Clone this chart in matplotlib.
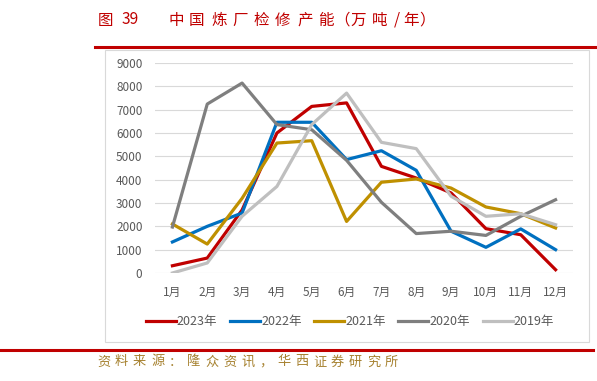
import matplotlib.pyplot as plt
from matplotlib.patches import Rectangle
from matplotlib.lines import Line2D

plt.rcParams['font.family'] = ['Noto Sans CJK SC', 'DejaVu Sans']

months = ['1月', '2月', '3月', '4月', '5月', '6月', '7月', '8月', '9月', '10月', '11月', '12月']
y2023 = [310, 640, 2700, 6000, 7140, 7290, 4570, 4070, 3430, 1900, 1640, 140]
y2022 = [1330, 2000, 2570, 6460, 6460, 4860, 5240, 4400, 1790, 1100, 1890, 1000]
y2021 = [2100, 1240, 3200, 5570, 5670, 2210, 3890, 4030, 3640, 2830, 2540, 1930]
y2020 = [1970, 7240, 8140, 6360, 6140, 4830, 3030, 1690, 1790, 1610, 2430, 3140]
y2019 = [0, 430, 2430, 3710, 6360, 7710, 5600, 5330, 3290, 2430, 2540, 2070]
labels = ['2023年', '2022年', '2021年', '2020年', '2019年']
colors = ['#C00000', '#0070C0', '#BF9000', '#7F7F7F', '#BFBFBF']

title_head = ['图', '39']
title_chars = list('中国炼厂检修产能（万吨/年）')
source_chars = list('资料来源：隆众资讯，华西证券研究所')

fig = plt.figure(figsize=(5.97, 3.81), dpi=100)
W, H = 597, 381

# title, spread out like the report's typesetting
head_x = [98, 122]
for s, px in zip(title_head, head_x):
    fig.text(px / W, 1 - 20 / H, s, color='#C00000', fontsize=11.2, va='center', ha='left')
title_x = [168, 189, 211, 232, 254, 275, 297, 318, 334, 350, 372, 394, 403, 419.5]
for s, px in zip(title_chars, title_x):
    fig.text(px / W, 1 - 20 / H, s, color='#C00000', fontsize=11.2, va='center', ha='left')

fig.add_artist(Line2D([95 / W, 1.0], [1 - 47 / H] * 2, color='#C00000', lw=2.2))
fig.add_artist(Line2D([0, 593 / W], [1 - 350 / H] * 2, color='#C00000', lw=2.2))
fig.add_artist(Rectangle((105 / W, 1 - 342 / H), 484 / W, 292 / H, fill=False,
                         edgecolor='#D9D9D9', lw=0.8))

for i, s in enumerate(source_chars):
    fig.text((97 + i * 18) / W, 1 - 362 / H, s, color='#A6812F',
             fontsize=9.5, va='center', ha='left')

ax = fig.add_axes([155 / W, 1 - 273 / H, 418 / W, 210 / H])
x = range(len(months))
for vals, lab, c in zip([y2023, y2022, y2021, y2020, y2019], labels, colors):
    ax.plot(x, vals, color=c, lw=2.3, label=lab)

ax.set_xlim(-0.5, 11.5)
ax.set_ylim(0, 9000)
ax.set_yticks(range(0, 9001, 1000))
ax.set_xticks(list(x))
ax.set_xticklabels(months)
ax.grid(axis='y', color='#D9D9D9', lw=0.8)
ax.set_axisbelow(True)
for s in ax.spines.values():
    s.set_visible(False)
ax.tick_params(length=0, colors='#595959', labelsize=8.5)
ax.tick_params(axis='y', pad=9)
ax.tick_params(axis='x', pad=9)

fig.legend(loc='center', bbox_to_anchor=(350 / W, 1 - 322 / H), ncol=5, frameon=False,
           fontsize=9, handlelength=2.4, handletextpad=0.1, columnspacing=1.0,
           labelcolor='#595959')

fig.savefig('out.png', dpi=100)
